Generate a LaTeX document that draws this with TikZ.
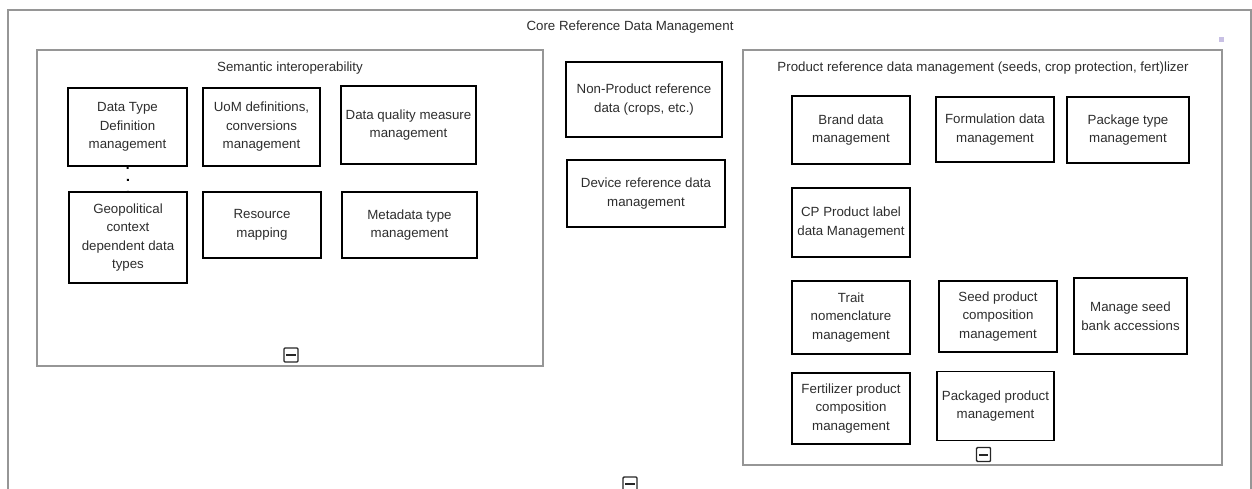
\documentclass[tikz,border=0pt]{standalone}
\usepackage{fontspec}
\setmainfont{Liberation Sans}
\definecolor{framegray}{RGB}{150,150,150}
\definecolor{txt}{RGB}{45,45,45}
\definecolor{lav}{RGB}{200,192,228}
\begin{document}
\begin{tikzpicture}[x=1pt,y=-1pt,
  blk/.style={draw=black, line width=1.6pt, align=center, inner sep=0pt, text=txt,
    font=\fontsize{13.3}{18.5}\selectfont},
  frame/.style={draw=framegray, line width=1.5pt, inner sep=0pt},
  ttl/.style={text=txt, font=\fontsize{13.3}{15}\selectfont, inner sep=0pt},
  minus/.style={draw=black!85, line width=1.4pt, minimum width=14pt, minimum height=14pt, inner sep=0pt, rounded corners=1pt},
  bar/.style={black!85, line width=2pt}
]
\useasboundingbox (0,0) rectangle (1252,489);
% outer frame
\draw[framegray, line width=1.5pt] (8,495) -- (8,10) -- (1251,10) -- (1251,495);
\node[ttl] (coretitle) at (630,27) {Core Reference Data Management};
\fill[lav] (1218.5,37.5) rectangle (1223.5,42.5);

% semantic interoperability frame
\node[frame, minimum width=506pt, minimum height=316pt] (sem) at (290,208) {};
\node[ttl] (semtitle) at (290,68) {Semantic interoperability};
\node[blk, minimum width=119pt, minimum height=78pt] (dt) at (127.5,127) {Data Type\\Definition\\management};
\node[blk, minimum width=117pt, minimum height=78pt] (uom) at (261.5,127) {UoM definitions,\\conversions\\management};
\node[blk, minimum width=135pt, minimum height=78pt] (dq) at (408.5,125) {Data quality measure\\management};
\node[blk, minimum width=118pt, minimum height=91pt] (geo) at (128,237.5) {Geopolitical\\context\\dependent data\\types};
\node[blk, minimum width=118pt, minimum height=66pt] (res) at (262,225) {Resource\\mapping};
\node[blk, minimum width=135pt, minimum height=66pt] (meta) at (409.5,225) {Metadata type\\management};
\draw[black, line width=2pt, dash pattern=on 2pt off 10pt] (dt.south) -- (geo.north);
\node[minus] (semmin) at (291,355) {};
\draw[bar] ([xshift=3pt]semmin.west) -- ([xshift=-3pt]semmin.east);

% middle
\node[blk, minimum width=156pt, minimum height=75pt] (np) at (644,99.5) {Non-Product reference\\data (crops, etc.)};
\node[blk, minimum width=158pt, minimum height=67pt] (dev) at (646,193.5) {Device reference data\\management};

% product frame
\node[frame, minimum width=479pt, minimum height=415pt] (prod) at (982.5,257.5) {};
\node[ttl] (prodtitle) at (983,68) {Product reference data management (seeds, crop protection, fert)lizer};
\node[blk, minimum width=118pt, minimum height=68pt] (brand) at (851,130) {Brand data\\management};
\node[blk, minimum width=118pt, minimum height=65pt] (form) at (995,129.5) {Formulation data\\management};
\node[blk, minimum width=122pt, minimum height=66pt] (pkg) at (1128,130) {Package type\\management};
\node[blk, minimum width=118pt, minimum height=69pt] (cp) at (851,222.5) {CP Product label\\data Management};
\node[blk, minimum width=118pt, minimum height=73pt] (trait) at (851,317.5) {Trait\\nomenclature\\management};
\node[blk, minimum width=118pt, minimum height=71pt] (seed) at (998,316.5) {Seed product\\composition\\management};
\node[blk, minimum width=113pt, minimum height=76pt] (bank) at (1130.5,316) {Manage seed\\bank accessions};
\node[blk, minimum width=118pt, minimum height=71pt] (fert) at (851,408.5) {Fertilizer product\\composition\\management};
\node[blk, minimum width=117pt, minimum height=69pt] (packd) at (995.5,406) {Packaged product\\management};
\node[minus] (prodmin) at (983.5,454.5) {};
\draw[bar] ([xshift=3pt]prodmin.west) -- ([xshift=-3pt]prodmin.east);

% bottom minus of outer frame
\node[minus] (coremin) at (630,484) {};
\draw[bar] ([xshift=3pt]coremin.west) -- ([xshift=-3pt]coremin.east);
\end{tikzpicture}
\end{document}
